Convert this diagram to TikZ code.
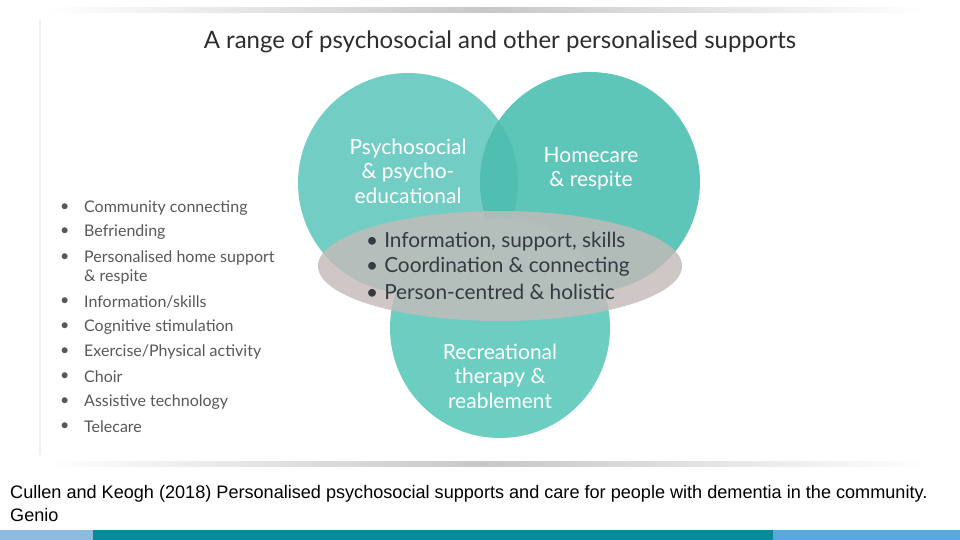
\documentclass[tikz,border=0pt]{standalone}
\usepackage{fontspec}
\setmainfont{Lato}
\newfontfamily\citefont{Liberation Sans}
\usetikzlibrary{positioning}
\definecolor{tealleft}{RGB}{114,206,196}
\definecolor{tealright}{RGB}{94,197,185}
\definecolor{tealmid}{RGB}{80,190,177}
\definecolor{tealbottom}{RGB}{108,205,193}
\definecolor{ovalgrey}{RGB}{196,187,185}
\definecolor{titlegrey}{RGB}{45,45,45}
\definecolor{listgrey}{RGB}{88,88,88}
\definecolor{ovaltext}{RGB}{52,58,64}
\definecolor{barlight}{RGB}{141,187,224}
\definecolor{barteal}{RGB}{7,138,153}
\definecolor{barblue}{RGB}{85,169,224}

\begin{document}
\begin{tikzpicture}[x=1pt,y=-1pt,
    circletext/.style={text=white,align=center,font=\fontsize{21}{24.5}\selectfont},
    ovalitem/.style={anchor=west,text=ovaltext,inner sep=0pt,font=\fontsize{20.8}{23}\selectfont},
    listitem/.style={anchor=west,text=listgrey,inner sep=0pt,font=\fontsize{16}{19}\selectfont}
    ]
\useasboundingbox (0,0) rectangle (960,540);
\fill[white] (0,0) rectangle (960,540);
% ombres en haut et en bas
\shade[left color=white,right color=white,middle color=black!22] (45,8) rectangle (925,13);
\shade[left color=white,right color=white,middle color=black!22] (45,461) rectangle (925,466);
\fill[black!6] (39,20) rectangle (40.5,455);

\node[font=\fontsize{24}{28}\selectfont,text=titlegrey] (title) at (500,42)
    {A range of psychosocial and other personalised supports};

% cercles
\coordinate (cleft) at (408,183);
\coordinate (cright) at (590,182);
\coordinate (cbottom) at (500,328);
\fill[tealleft] (cleft) circle[radius=110pt];
\fill[tealright] (cright) circle[radius=110pt];
\begin{scope}
  \clip (cleft) circle[radius=110pt];
  \fill[tealmid] (cright) circle[radius=110pt];
\end{scope}
\fill[tealbottom] (cbottom) circle[radius=110pt];
\fill[ovalgrey,fill opacity=0.82] (500,266) ellipse[x radius=182pt,y radius=55pt];

\node[circletext] (psycho) at (408,171) {Psychosocial\\\& psycho-\\educational};
\node[circletext] (homecare) at (591,169) {Homecare\\\& respite};
\node[circletext] (recreation) at (500,376) {Recreational\\therapy \&\\reablement};

\node[ovalitem] (info) at (366,242) {\textbullet\hspace{6pt}Information, support, skills};
\node[ovalitem] (coord) at (366,267) {\textbullet\hspace{6pt}Coordination \& connecting};
\node[ovalitem] (person) at (366,292) {\textbullet\hspace{6pt}Person-centred \& holistic};

% liste de gauche
\foreach \y/\txt [count=\i] in {208/{Community connecting},
    232/{Befriending},
    258/{Personalised home support},
    302/{Information/skills},
    327/{Cognitive stimulation},
    352/{Exercise/Physical activity},
    377/{Choir},
    402/{Assistive technology},
    427/{Telecare}}
{
  \node[listitem] (dot\i) at (60,\y) {\textbullet};
  \node[listitem] (item\i) at (84,\y) {\txt};
}
\node[listitem] (item3b) at (84,277) {\& respite};

% reference
\node[anchor=west,inner sep=0pt,font=\citefont\fontsize{18.1}{23}\selectfont,align=left] (cite) at (10,504)
    {Cullen and Keogh (2018) Personalised psychosocial supports and care for people with dementia in the community.\\Genio};

% bande du bas
\fill[barlight] (0,530) rectangle (93,540);
\fill[barteal] (93,530) rectangle (773,540);
\fill[barblue] (773,530) rectangle (960,540);
\end{tikzpicture}
\end{document}
